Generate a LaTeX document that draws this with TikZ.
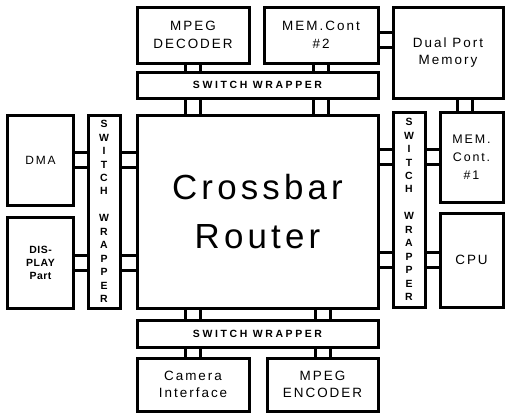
\documentclass[tikz,border=0pt]{standalone}
\usepackage{fontspec}
\setmainfont{Liberation Sans}
\begin{document}
\begin{tikzpicture}[
		x=1bp, y=-1bp,
		block/.style={rectangle, draw, line width=3bp, inner sep=0pt, align=center,
			font=\fontsize{13.5}{17.5}\selectfont\addfontfeatures{LetterSpace=15}},
		wrapper/.style={block, font=\fontsize{10.5}{13.5}\selectfont\bfseries\addfontfeatures{LetterSpace=25}},
		link/.style={line width=3bp},
	]
	\useasboundingbox (0,0) rectangle (505,414);

	\node[block, minimum width=241bp, minimum height=193bp,
		font=\fontsize{35}{50}\selectfont\addfontfeatures{LetterSpace=12}] (xbar) at (257.5, 211.5) {Crossbar\\Router};
	\node[wrapper, minimum width=241bp, minimum height=26bp] (topsw) at (257.5, 85)  {SWITCH WRAPPER};
	\node[wrapper, minimum width=241bp, minimum height=27bp] (botsw) at (257.5, 333.5) {SWITCH WRAPPER};
	\node[wrapper, minimum width=32bp, minimum height=193bp] (lsw) at (104, 211.5)
		{S\\W\\I\\T\\C\\H\\[13.5bp]W\\R\\A\\P\\P\\E\\R};
	\node[wrapper, minimum width=32bp, minimum height=195bp] (rsw) at (409, 209.5)
		{S\\W\\I\\T\\C\\H\\[13.5bp]W\\R\\A\\P\\P\\E\\R};

	\node[block, minimum width=112bp, minimum height=56bp] (dec)  at (193, 35)    {MPEG\\DECODER};
	\node[block, minimum width=114bp, minimum height=56bp] (mem2) at (321, 35)    {MEM.Cont\\\#2};
	\node[block, minimum width=110bp, minimum height=91bp] (dpm)  at (448, 52.5)  {Dual Port\\Memory};
	\node[block, minimum width=65bp, minimum height=90bp, font=\fontsize{12}{15}\selectfont\addfontfeatures{LetterSpace=15}]
		(dma)  at (40.5, 160)   {DMA};
	\node[block, minimum width=65bp, minimum height=91bp, font=\fontsize{10.5}{13}\selectfont\bfseries\addfontfeatures{LetterSpace=5}]
		(disp) at (40.5, 262.5) {DIS-\\PLAY\\Part};
	\node[block, minimum width=63bp, minimum height=90bp, font=\fontsize{12.5}{18}\selectfont\addfontfeatures{LetterSpace=15}]
		(mem1) at (471.5, 157)  {MEM.\\Cont.\\\#1};
	\node[block, minimum width=63bp, minimum height=94bp] (cpu)  at (471.5, 260)  {CPU};
	\node[block, minimum width=112bp, minimum height=53bp] (cam)  at (193, 384.5)   {Camera\\Interface};
	\node[block, minimum width=111bp, minimum height=53bp] (enc)  at (322.5, 384.5) {MPEG\\ENCODER};

	% double line bridges between the blocks
	\foreach \s in {-7.5bp, 7.5bp} {
		\draw[link] ([xshift=\s]dec.south) -- ([xshift=\s]dec.south |- topsw.north);
		\draw[link] ([xshift=\s]dec.south |- topsw.south) -- ([xshift=\s]dec.south |- xbar.north);
		\draw[link] ([xshift=\s]mem2.south) -- ([xshift=\s]mem2.south |- topsw.north);
		\draw[link] ([xshift=\s]mem2.south |- topsw.south) -- ([xshift=\s]mem2.south |- xbar.north);
		\draw[link] ([xshift=\s]cam.north |- xbar.south) -- ([xshift=\s]cam.north |- botsw.north);
		\draw[link] ([xshift=\s]cam.north |- botsw.south) -- ([xshift=\s]cam.north);
		\draw[link] ([xshift=\s]enc.north |- xbar.south) -- ([xshift=\s]enc.north |- botsw.north);
		\draw[link] ([xshift=\s]enc.north |- botsw.south) -- ([xshift=\s]enc.north);
		\draw[link] ([yshift=\s]dma.east) -- ([yshift=\s]dma.east -| lsw.west);
		\draw[link] ([yshift=\s]dma.east -| lsw.east) -- ([yshift=\s]dma.east -| xbar.west);
		\draw[link] ([yshift=\s]disp.east) -- ([yshift=\s]disp.east -| lsw.west);
		\draw[link] ([yshift=\s]disp.east -| lsw.east) -- ([yshift=\s]disp.east -| xbar.west);
		\draw[link] ([yshift=\s]mem1.west) -- ([yshift=\s]mem1.west -| rsw.east);
		\draw[link] ([yshift=\s]mem1.west -| rsw.west) -- ([yshift=\s]mem1.west -| xbar.east);
		\draw[link] ([yshift=\s]cpu.west) -- ([yshift=\s]cpu.west -| rsw.east);
		\draw[link] ([yshift=\s]cpu.west -| rsw.west) -- ([yshift=\s]cpu.west -| xbar.east);
		\draw[link] ([yshift=\s-5bp]mem2.east) -- ([yshift=\s-5bp]mem2.east -| dpm.west);
		\draw[link] ([xshift=\s-7bp]mem1.north) -- ([xshift=\s-7bp]mem1.north |- dpm.south);
	}
\end{tikzpicture}
\end{document}
